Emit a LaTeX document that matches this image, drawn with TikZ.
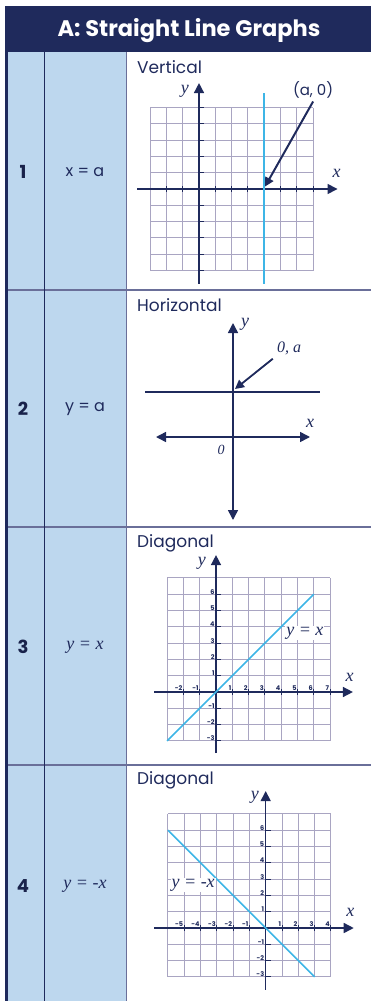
\documentclass[tikz,border=0pt]{standalone}
\usepackage{fontspec}
\setmainfont{Poppins}
\newfontfamily\lblfont{Liberation Serif}
\usepackage{tikz}
\usetikzlibrary{arrows.meta,positioning}

\definecolor{navy}{HTML}{1F2A5C}
\definecolor{cellblue}{HTML}{BDD7EE}
\definecolor{gridgray}{HTML}{A9A5C2}
\definecolor{lineblue}{HTML}{3DB5E6}
\definecolor{rulegray}{HTML}{6A6F99}

\tikzset{
  header/.style={text=white, font=\bfseries\fontsize{22.5}{24}\selectfont},
  numlbl/.style={text=navy!80!black, font=\bfseries\fontsize{18}{20}\selectfont},
  eqlbl/.style={text=navy, font=\fontsize{16}{18}\selectfont},
  eqit/.style={text=navy, font=\lblfont\itshape\fontsize{18}{18}\selectfont},
  paneltitle/.style={text=navy, anchor=west, inner sep=0pt, font=\fontsize{17}{18}\selectfont},
  axislbl/.style={text=navy, inner sep=0pt, font=\lblfont\itshape\fontsize{18}{18}\selectfont},
  ticklbl/.style={text=navy, inner sep=0.5pt, font=\bfseries\fontsize{6.5}{6.5}\selectfont},
  gridline/.style={draw=gridgray, line width=0.9pt, step=1},
  axisline/.style={draw=navy, line width=1.5pt},
  tickmark/.style={draw=navy, line width=1pt},
  blueline/.style={draw=lineblue, line width=1.5pt},
  ptr/.style={draw=navy, line width=2pt, -{Triangle[length=9pt,width=9pt]}},
  axarrow/.style={-{Triangle[length=10pt,width=10pt]}},
}

\begin{document}
\begin{tikzpicture}[x=1pt,y=-1pt]
  \useasboundingbox (0,0) rectangle (371,1001);
  % table frame
  \fill[cellblue] (5,52) rectangle (126,1001);
  \fill[navy] (5,6) rectangle (371,52);
  \node[header] (title) at (189,31) {A: Straight Line Graphs};
  \foreach \y in {290,527,765}
    \draw[rulegray, line width=1.2pt] (5,\y) -- (371,\y);
  \draw[navy, line width=1pt] (44,52) -- (44,1001);
  \draw[rulegray, line width=1pt] (126,52) -- (126,1001);
  \draw[navy, line width=2.5pt] (6.25,52) -- (6.25,1001);

  % left columns
  \node[numlbl] (n1) at (23,172) {1};
  \node[numlbl] (n2) at (23,409) {2};
  \node[numlbl] (n3) at (23,647) {3};
  \node[numlbl] (n4) at (23,886) {4};
  \node[eqlbl] (e1) at (85,172) {x = a};
  \node[eqlbl] (e2) at (85,409) {y = a};
  \node[eqit] (e3) at (85,647) {y = x};
  \node[eqit] (e4) at (85,886) {y = -x};

  % panel titles
  \node[paneltitle] (t1) at (137,67) {Vertical};
  \node[paneltitle] (t2) at (137,305) {Horizontal};
  \node[paneltitle] (t3) at (137,543) {Diagonal};
  \node[paneltitle] (t4) at (137,780) {Diagonal};

  % 1: vertical line
  \begin{scope}[shift={(199,189)}, x=16.3pt, y=16.3pt]
    \draw[gridline] (-3,-5) grid (7,5);
    \draw[axisline, axarrow] (-3.8,0) -- (8.5,0);
    \draw[axisline, axarrow] (0,-5.8) -- (0,6.5);
    \foreach \i in {-2,-1,1,2,...,7}
      \draw[tickmark] (\i,-0.18) -- (\i,0.18);
    \foreach \j in {-5,...,-1,1,2,...,5}
      \draw[tickmark] (-0.05,\j) -- (0.3,\j);
    \draw[blueline] (4,-5.8) -- (4,5.9);
    \coordinate (p1) at (4.05,0.15);
    \node[eqlbl, font=\fontsize{15}{16}\selectfont] (a0) at (7.0,6.1) {(a, 0)};
    \draw[ptr] (a0.south) -- (p1);
    \node[axislbl] (y1) at (-0.86,6.0) {y};
    \node[axislbl] (x1) at (8.45,0.95) {x};
  \end{scope}

  % 2: horizontal line
  \coordinate (ytop) at (233,323);
  \coordinate (ybot) at (233,520);
  \coordinate (xl) at (156,437);
  \coordinate (xr) at (310,437);
  \coordinate (hl) at (145,392);
  \coordinate (hr) at (320,392);
  \coordinate (p2) at (235,389);
  \draw[axisline, {Triangle[length=10pt,width=10pt]}-{Triangle[length=10pt,width=10pt]}] (ybot) -- (ytop);
  \draw[axisline, {Triangle[length=10pt,width=10pt]}-{Triangle[length=10pt,width=10pt]}] (xl) -- (xr);
  \draw[navy, line width=2.5pt] (hl) -- (hr);
  \node[axislbl] (y2) at (245,324) {y};
  \node[axislbl] (x2) at (310,423) {x};
  \node[axislbl, font=\lblfont\itshape\fontsize{14}{16}\selectfont] (o2) at (221,450) {0};
  \node[axislbl, font=\lblfont\itshape\fontsize{16}{16}\selectfont] (a2) at (289,348) {0, a};
  \draw[ptr, line width=1.8pt] (a2.south west) ++(-4,4) -- (p2);

  % 3: y = x
  \begin{scope}[shift={(216,692)}, x=16.3pt, y=16.3pt]
    \draw[gridline] (-3,-3) grid (7,7);
    \draw[axisline, axarrow] (-3.8,0) -- (8.4,0);
    \draw[axisline, axarrow] (0,-3.75) -- (0,8.4);
    \foreach \i in {-2,-1,1,2,...,7} {
      \draw[tickmark] (\i,-0.18) -- (\i,0.18);
      \node[ticklbl, anchor=south east] (x3\i) at (\i-0.02,0.02) {\i};
    }
    \foreach \j in {-3,-2,-1,1,2,...,6} {
      \draw[tickmark] (-0.05,\j) -- (0.3,\j);
      \node[ticklbl, anchor=south east] (y3\j) at (-0.05,\j-0.05) {\j};
    }
    \draw[blueline] (-3,-3) -- (6,6);
    \node[eqit, fill=white, inner sep=1pt] (l3) at (5.45,3.6) {y = x};
    \node[axislbl] (y3) at (-0.86,7.9) {y};
    \node[axislbl] (x3) at (8.2,0.9) {x};
  \end{scope}

  % 4: y = -x
  \begin{scope}[shift={(265.7,928)}, x=16.3pt, y=16.3pt]
    \draw[gridline] (-6,-3) grid (4,7);
    \draw[axisline, axarrow] (-6.85,0) -- (5.4,0);
    \draw[axisline, axarrow] (0,-3.8) -- (0,8.4);
    \foreach \i in {-5,...,-1,1,2,...,4} {
      \draw[tickmark] (\i,-0.18) -- (\i,0.18);
      \node[ticklbl, anchor=south east] (x4\i) at (\i-0.02,0.02) {\i};
    }
    \foreach \j in {-3,-2,-1,1,2,...,6} {
      \draw[tickmark] (-0.05,\j) -- (0.3,\j);
      \node[ticklbl, anchor=south east] (y4\j) at (-0.05,\j-0.05) {\j};
    }
    \draw[blueline] (-6,6) -- (3,-3);
    \node[eqit, fill=white, inner sep=1pt] (l4) at (-4.45,2.65) {y = -x};
    \node[axislbl] (y4) at (-0.66,8.0) {y};
    \node[axislbl] (x4) at (5.2,0.95) {x};
  \end{scope}
\end{tikzpicture}
\end{document}
